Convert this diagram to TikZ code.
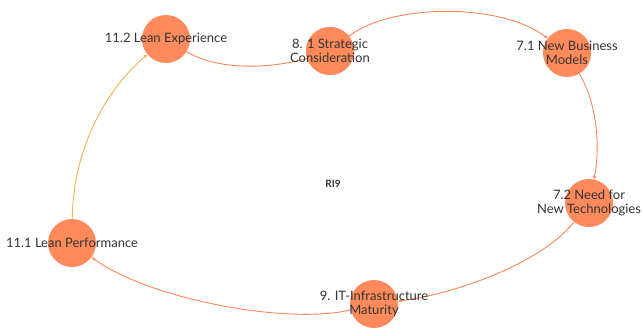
\documentclass[tikz,border=0pt]{standalone}
\usepackage{fontspec}
\setmainfont{Lato}
\usetikzlibrary{arrows.meta}
\definecolor{bubble}{HTML}{FF8A5B}
\definecolor{link}{HTML}{F9875A}
\definecolor{linkwarm}{HTML}{F8AE55}
\definecolor{ink}{HTML}{333333}
\tikzset{
  bubble/.style={circle, fill=bubble, minimum size=48pt, inner sep=0pt},
  caption/.style={text=ink, font=\fontsize{13}{13.5}\selectfont, align=center},
  link/.style={draw=link, line width=0.9pt, -{Stealth[length=4pt,width=3.5pt]}},
}
\begin{document}
\begin{tikzpicture}[x=1pt, y=-1pt]
  \useasboundingbox (0,0) rectangle (643,329);
  % circles
  \node[bubble] (n112) at (166,39) {};
  \node[bubble] (n81) at (330,51) {};
  \node[bubble] (n71) at (567,53) {};
  \node[bubble] (n72) at (589,203) {};
  \node[bubble] (n9) at (374,304) {};
  \node[bubble] (n111) at (72,243) {};
  % loop of influences
  \draw[link, draw=linkwarm] (n111) .. controls (73,150) and (105,90) .. (n112);
  \draw[link] (n112) .. controls (220,72) and (280,70) .. (n81.center);
  \draw[link] (n81) .. controls (390,4) and (500,2) .. (n71);
  \draw[link] (n71) .. controls (598,105) and (600,150) .. (n72);
  \draw[link] (n72) .. controls (540,265) and (450,295) .. (n9);
  \draw[link] (n9) .. controls (290,325) and (150,300) .. (n111);
  % circle drawn again on top of the link that ends at its centre
  \node[bubble] at (n81) {};
  % labels
  \node[caption] at (n112) {11.2 Lean Experience};
  \node[caption] at (n81) {8. 1 Strategic\\Consideration};
  \node[caption] at (n71) {7.1 New Business\\Models};
  \node[caption] at (n72) {7.2 Need for\\New Technologies};
  \node[caption] at (n9) {9. IT-Infrastructure\\Maturity};
  \node[caption] at (n111) {11.1 Lean Performance};
  \node[text=ink, font=\bfseries\fontsize{10}{11}\selectfont] (ri9) at (333,184) {RI9};
\end{tikzpicture}
\end{document}
